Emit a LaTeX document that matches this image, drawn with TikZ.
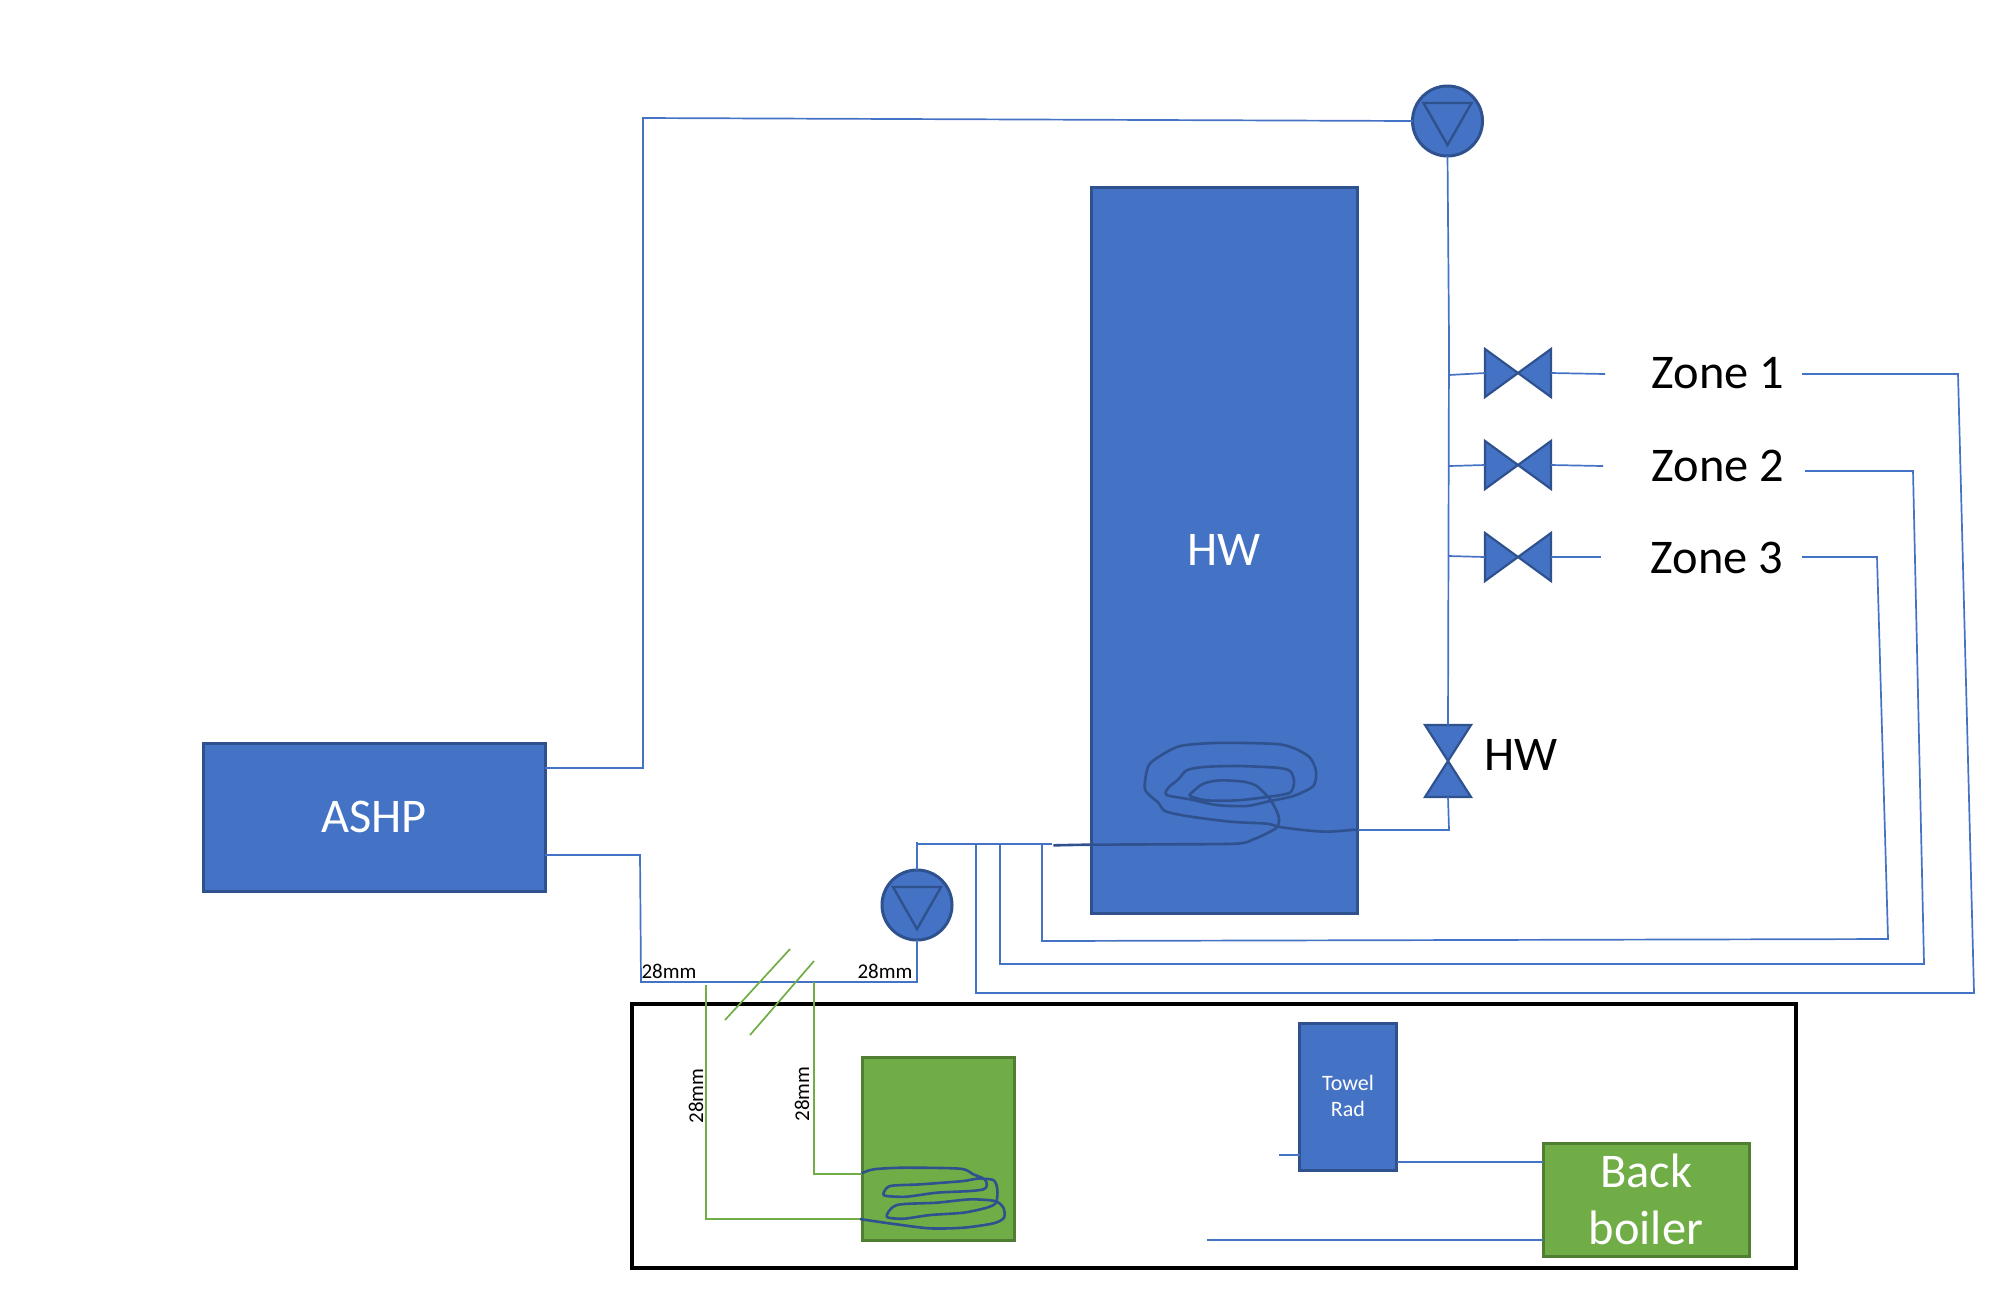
\documentclass[tikz,border=0pt]{standalone}
\usepackage{fontspec}
\setmainfont{Carlito}
\definecolor{pipeblue}{HTML}{4472C4}
\definecolor{edgeblue}{HTML}{2F528F}
\definecolor{leafgreen}{HTML}{70AD47}
\definecolor{edgegreen}{HTML}{507E32}
\tikzset{
  x=0.5pt,y=-0.5pt,
  pipe/.style={draw=pipeblue,line width=0.85pt},
  greenpipe/.style={draw=leafgreen,line width=0.85pt},
  coil/.style={draw=edgeblue,line width=1.3pt,line join=round},
  unit/.style={rectangle,draw=edgeblue,fill=pipeblue,line width=1.5pt,inner sep=0pt,outer sep=0pt,text=white,align=center},
  greenunit/.style={unit,draw=edgegreen,fill=leafgreen},
  biglabel/.style={font=\fontsize{24.2pt}{28.5pt}\selectfont},
  sizelabel/.style={font=\fontsize{10.5pt}{12pt}\selectfont,inner sep=0pt},
  pics/bowtie/.style 2 args={code={
    \draw[draw=edgeblue,fill=pipeblue,line width=1.1pt,line join=miter]
      (-#1,-#2) -- (#1,#2) -- (#1,-#2) -- (-#1,#2) -- cycle;
    \coordinate (-w) at (-#1,0);
    \coordinate (-e) at (#1,0);
  }},
  pics/pump/.style={code={
    \node[circle,draw=edgeblue,fill=pipeblue,line width=1.5pt,minimum size=35pt,inner sep=0pt,outer sep=0pt] (-c) at (0,0) {};
    \draw[draw=edgeblue,line width=1.2pt,line join=miter] (-24,-18) -- (24,-18) -- (0,24) -- cycle;
  }},
}
\begin{document}
\begin{tikzpicture}
\useasboundingbox (0,-1) rectangle (2000,1297);

% enclosure for the existing appliances
\node[rectangle,draw=black,line width=2pt,minimum width=582pt,minimum height=132pt,inner sep=0pt,outer sep=0pt] (room) at (1214,1135) {};

% main units
\node[unit,biglabel,minimum width=171pt,minimum height=74pt] (ashp) at (374,816) {ASHP};
\node[unit,biglabel,minimum width=133pt,minimum height=363pt] (hw) at (1224,549) {HW};
\node[greenunit,minimum width=76pt,minimum height=91.5pt] (cyl) at (938,1147.5) {};
\node[unit,minimum width=48.5pt,minimum height=73.5pt] (towel) at (1348,1095.5) {};
\node[text=white,font=\fontsize{11pt}{13pt}\selectfont,align=center,inner sep=0pt] (towellabel) at (1348,1095) {Towel\\Rad};
\node[greenunit,biglabel,minimum width=103pt,minimum height=56.5pt] (boiler) at (1646,1198.5) {Back\\boiler};

% pumps and valves
\pic (pa) at (1447.5,120) {pump};
\pic (pb) at (917,904) {pump};
\pic (za) at (1518,372) {bowtie={33}{24}};
\pic (zb) at (1518,464) {bowtie={33}{24}};
\pic (zc) at (1518,556) {bowtie={33}{24}};

% hot water valve stands upright
\draw[draw=edgeblue,fill=pipeblue,line width=1.1pt,line join=miter]
  (1425,724) -- (1471,796) -- (1425,796) -- (1471,724) -- cycle;
\coordinate (hwvtop) at (1448,724);
\coordinate (hwvbot) at (1448,796);

% labels
\node[biglabel,inner sep=0pt] (lza) at (1718,372) {Zone 1};
\node[biglabel,inner sep=0pt] (lzb) at (1718,465) {Zone 2};
\node[biglabel,inner sep=0pt] (lzc) at (1717,557) {Zone 3};
\node[biglabel,inner sep=0pt] (lhw) at (1521,754) {HW};
\node[sizelabel] (sa) at (669,970) {28mm};
\node[sizelabel] (sb) at (885,970) {28mm};
\node[sizelabel,rotate=90] (sc) at (696,1095) {28mm};
\node[sizelabel,rotate=90] (sd) at (802,1093) {28mm};

% junction points along the pipe runs
\coordinate (flowa) at (545,767);
\coordinate (flowb) at (643,767);
\coordinate (flowc) at (643,117);
\coordinate (pabot) at (1447,155);
\coordinate (riserkink) at (1449,340);
\coordinate (risertee) at (1449,829);
\coordinate (hwright) at (1357,829);
\coordinate (retura) at (545,854);
\coordinate (returb) at (640,854);
\coordinate (returc) at (641,981);
\coordinate (pbfoot) at (917,981);
\coordinate (pbtop) at (917,841);
\coordinate (mainl) at (917,843);
\coordinate (mainr) at (1052,843);

% primary circuit
\draw[pipe] (ashp.east |- flowa) -- (flowb) -- (flowc) -- (pa-c.west);
\draw[pipe] (pa-c.south) -- (riserkink) -- (hwvtop);
\draw[pipe] (hwvbot) -- (risertee) -- (hwright);
\draw[pipe] (ashp.east |- retura) -- (returb) -- (returc) -- (pbfoot) -- (pb-c.south);
\draw[pipe] (pb-c.north) -- (pbtop);
\draw[pipe] (mainl) -- (mainr);

% zone branches
\coordinate (taa) at (1449,374); \coordinate (tba) at (1449,465); \coordinate (tca) at (1449,555);
\coordinate (oa) at (1605,373);  \coordinate (ob) at (1603,465);  \coordinate (oc) at (1601,556);
\draw[pipe] (taa) -- (za-w);
\draw[pipe] (tba) -- (zb-w);
\draw[pipe] (tca) -- (zc-w);
\draw[pipe] (za-e) -- (oa);
\draw[pipe] (zb-e) -- (ob);
\draw[pipe] (zc-e) -- (oc);

% zone circuits returning under the cylinder
\coordinate (aa) at (1802,373); \coordinate (ab) at (1958,373); \coordinate (ac) at (1974,992); \coordinate (ad) at (976,992); \coordinate (ae) at (976,843);
\coordinate (ba) at (1805,470); \coordinate (bb) at (1913,470); \coordinate (bc) at (1924,963); \coordinate (bd) at (1000,963); \coordinate (be) at (1000,843);
\coordinate (ca) at (1802,556); \coordinate (cb) at (1877,556); \coordinate (cc) at (1888,938); \coordinate (cd) at (1042,940); \coordinate (ce) at (1042,843);
\draw[pipe] (aa) -- (ab) -- (ac) -- (ad) -- (ae);
\draw[pipe] (ba) -- (bb) -- (bc) -- (bd) -- (be);
\draw[pipe] (ca) -- (cb) -- (cc) -- (cd) -- (ce);

% towel rail and back boiler pipework
\coordinate (tstub) at (1279,1154);
\coordinate (bstub) at (1207,1239);
\draw[pipe] (tstub) -- (towel.west |- tstub);
\draw[pipe] (towel.east |- 0,1161) -- (boiler.west |- 0,1161);
\draw[pipe] (bstub) -- (boiler.west |- bstub);

% proposed connections to the existing cylinder
\coordinate (ga) at (706,984); \coordinate (gb) at (706,1218);
\coordinate (gc) at (814,981); \coordinate (gd) at (814,1173);
\draw[greenpipe] (ga) -- (gb) -- (cyl.west |- gb);
\draw[greenpipe] (gc) -- (gd) -- (cyl.west |- gd);

% break marks across the pipe run
\coordinate (ka) at (725,1019); \coordinate (kb) at (790,948);
\coordinate (kc) at (750,1034); \coordinate (kd) at (814,960);
\draw[greenpipe] (ka) -- (kb);
\draw[greenpipe] (kc) -- (kd);

% hand-drawn coil in the new cylinder
\begin{scope}[xshift=540pt,yshift=-360pt,x=0.16667pt,y=-0.16667pt]
\draw[coil] plot[smooth,tension=0.45] coordinates {
 (-80,373) (30,371) (250,370) (470,368) (520,355) (550,342) (590,320) (597,295) (590,270) (570,235)
 (530,195) (490,182) (420,178) (370,188) (335,215) (330,225) (380,238) (470,238)
 (560,228) (630,215) (642,180) (630,150) (590,140) (470,135) (370,138) (320,148)
 (295,175) (265,200) (260,222) (330,235) (410,252) (500,255) (570,240) (640,225)
 (700,195) (708,150) (690,110) (650,85) (600,70) (500,66) (400,66) (300,75)
 (240,105) (205,135) (195,205) (235,245) (255,270) (320,285) (450,302) (560,308)
 (600,318) (680,328) (745,332) (835,325)};
\end{scope}

% hand-drawn coil in the existing cylinder
\begin{scope}[xshift=310pt,yshift=-410pt,x=0.16667pt,y=-0.16667pt]
\draw[coil] plot[smooth,tension=0.45] coordinates {
 (725,1057) (760,1045) (850,1040) (1020,1043) (1060,1060) (1095,1075) (1100,1095)
 (1090,1105) (1050,1110) (950,1115) (860,1127) (800,1125) (790,1118) (810,1095)
 (900,1090) (1030,1080) (1070,1073) (1120,1077) (1132,1105) (1128,1145) (1100,1160)
 (1030,1175) (930,1182) (850,1193) (800,1187) (830,1152) (950,1145) (1050,1135)
 (1125,1140) (1150,1160) (1152,1190) (1120,1207) (1030,1220) (930,1222) (830,1210)
 (760,1200) (720,1194)};
\end{scope}
\end{tikzpicture}
\end{document}
